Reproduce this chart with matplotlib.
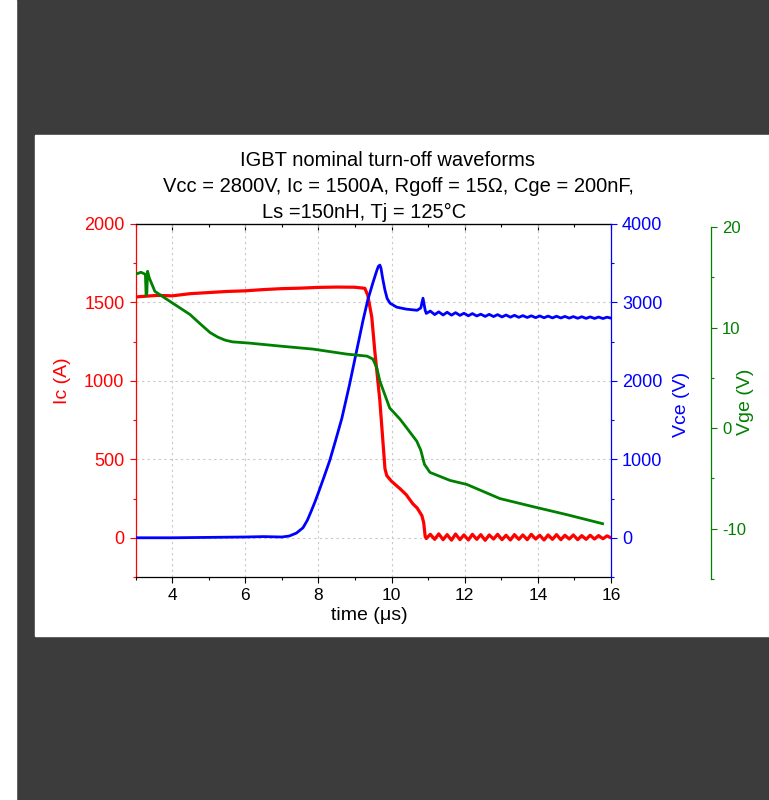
import numpy as np
import matplotlib
matplotlib.use("Agg")
import matplotlib.pyplot as plt
from matplotlib.patches import Rectangle
from matplotlib.ticker import MultipleLocator

plt.rcParams['font.family'] = ['Liberation Sans', 'DejaVu Sans']
plt.rcParams['axes.unicode_minus'] = False

# ---- data ----
ic_t = [3.0, 3.3, 3.6, 4.0, 4.5, 5.0, 5.5, 6.0, 6.5, 7.0, 7.5, 8.0, 8.5, 9.0, 9.27,
        9.35, 9.46, 9.54, 9.68, 9.82, 9.87, 10.0, 10.23, 10.4, 10.58, 10.7, 10.83, 10.88, 10.92]
ic_v = [1535, 1540, 1545, 1542, 1556, 1563, 1570, 1574, 1582, 1588, 1591, 1596, 1598, 1597, 1590,
        1546, 1406, 1195, 875, 441, 396, 360, 313, 275, 217, 190, 141, 95, 8]

ring_t = [10.95, 11.06, 11.18, 11.29, 11.41, 11.52, 11.64, 11.75, 11.87, 11.98, 12.10, 12.21,
          12.33, 12.44, 12.56, 12.67, 12.79, 12.90, 13.02, 13.13, 13.25, 13.36, 13.48, 13.59,
          13.71, 13.82, 13.94, 14.05, 14.17, 14.28, 14.40, 14.51, 14.63, 14.74, 14.86, 14.97,
          15.09, 15.20, 15.32, 15.43, 15.55, 15.66, 15.78, 15.89, 16.0]
ic_ring = [-5, 22, -10, 25, -12, 20, -15, 24, -12, 18, -14, 22, -10, 20, -16, 18, -8, 22,
           -12, 16, -14, 20, -10, 18, -12, 22, -8, 16, -14, 18, -10, 20, -12, 16, -8, 18,
           -12, 14, -10, 16, -8, 14, -6, 12, 0]

vce_t = [3.0, 4.0, 5.0, 6.0, 6.5, 7.0, 7.2, 7.4, 7.58, 7.7, 7.8, 7.9, 8.0, 8.15, 8.31, 8.47,
         8.64, 8.85, 9.08, 9.22, 9.35, 9.49, 9.6, 9.64, 9.68, 9.71, 9.76, 9.82, 9.88, 9.96,
         10.14, 10.4, 10.7, 10.8, 10.86, 10.92]
vce_v = [0, 0, 5, 10, 15, 10, 22, 60, 128, 225, 335, 450, 575, 770, 984, 1240,
         1520, 1950, 2460, 2770, 3030, 3250, 3410, 3460, 3476, 3440, 3300, 3157, 3050, 2990,
         2940, 2915, 2900, 2930, 3054, 2900]
vce_ring = [2860, 2890, 2845, 2880, 2840, 2875, 2838, 2870, 2835, 2862, 2830, 2858, 2828,
            2850, 2822, 2848, 2820, 2845, 2815, 2840, 2812, 2836, 2810, 2832, 2808, 2830,
            2806, 2828, 2805, 2826, 2803, 2824, 2802, 2822, 2800, 2820, 2798, 2818, 2797,
            2816, 2796, 2814, 2795, 2812, 2800]

vge_t = [3.0, 3.15, 3.27, 3.29, 3.31, 3.33, 3.38, 3.45, 3.53, 3.86, 4.49, 4.76, 5.04, 5.25,
         5.45, 5.65, 6.1, 6.95, 7.85, 8.78, 9.33, 9.49, 9.6, 9.68, 9.95, 10.23, 10.42, 10.69,
         10.8, 10.9, 11.05, 11.6, 12.06, 12.96, 13.86, 14.79, 15.77]
vge_v = [15.3, 15.5, 15.3, 13.2, 13.4, 15.6, 14.9, 14.3, 13.6, 12.8, 11.3, 10.4, 9.5, 9.05,
         8.75, 8.58, 8.46, 8.16, 7.86, 7.36, 7.16, 6.87, 5.97, 4.68, 2.0, 0.9, 0.0, -1.3,
         -2.2, -3.6, -4.4, -5.2, -5.6, -7.0, -7.8, -8.6, -9.5]

title_lines = ["IGBT nominal turn-off waveforms",
               "Vcc = 2800V, Ic = 1500A, Rgoff = 15\u03a9, Cge = 200nF,",
               "Ls =150nH, Tj = 125\u00b0C"]

W, H = 769, 800
fig = plt.figure(figsize=(W / 100, H / 100), dpi=100)
fig.patch.set_facecolor('#3c3c3c')
fig.add_artist(Rectangle((0, 0), 16 / W, 1, transform=fig.transFigure, color='white', zorder=-5))
fig.add_artist(Rectangle((35 / W, 1 - 636 / H), 1 - 35 / W, (636 - 135) / H,
                         transform=fig.transFigure, color='white', zorder=-5))

L, R = 135.5 / W, 611 / W
ax1 = fig.add_axes([L, 1 - 577 / H, R - L, (577 - 224) / H])
ax2 = ax1.twinx()
ax3 = fig.add_axes([L, 1 - 579 / H, R - L, (579 - 227) / H], sharex=ax1)

red, blue, green = '#ff0000', '#0000ff', '#008000'

ax1.plot(ic_t + ring_t, ic_v + ic_ring, color=red, lw=2.3)
ax2.plot(vce_t + ring_t, vce_v + vce_ring, color=blue, lw=2.0)
ax3.plot(vge_t, vge_v, color=green, lw=2.0)

ax1.set_xlim(3, 16)
ax1.set_ylim(-250, 2000)
ax2.set_ylim(-500, 4000)
ax3.set_ylim(-15, 20)

ax1.xaxis.set_major_locator(MultipleLocator(2))
ax1.xaxis.set_minor_locator(MultipleLocator(1))
ax1.yaxis.set_major_locator(MultipleLocator(500))
ax1.yaxis.set_minor_locator(MultipleLocator(250))
ax2.yaxis.set_major_locator(MultipleLocator(1000))
ax2.yaxis.set_minor_locator(MultipleLocator(500))
ax3.yaxis.set_major_locator(MultipleLocator(10))
ax3.yaxis.set_minor_locator(MultipleLocator(5))

ax1.grid(True, which='major', color='#c8c8c8', lw=0.8, linestyle=(0, (2, 3)))

ax1.tick_params(axis='x', which='major', direction='out', length=4, width=0.8, labelsize=12.5, pad=4)
ax1.tick_params(axis='x', which='minor', direction='out', length=2.5, width=0.8)
ax1.tick_params(axis='y', which='major', direction='out', length=4, width=0.8, colors=red, labelsize=13, pad=4)
ax1.tick_params(axis='y', which='minor', direction='out', length=2.5, width=0.8, colors=red)
ax2.tick_params(axis='y', which='major', direction='out', length=4, width=0.8, colors=blue, labelsize=13, pad=4)
ax2.tick_params(axis='y', which='minor', direction='out', length=2.5, width=0.8, colors=blue)

top = ax1.secondary_xaxis('top')
top.xaxis.set_major_locator(MultipleLocator(2))
top.xaxis.set_minor_locator(MultipleLocator(1))
top.tick_params(which='major', direction='in', length=4, width=0.8, labeltop=False)
top.tick_params(which='minor', direction='in', length=2.5, width=0.8)

ax1.spines['left'].set_color(red)
ax1.spines['right'].set_visible(False)
for s in ['left', 'top', 'bottom']:
    ax2.spines[s].set_visible(False)
ax2.spines['right'].set_color(blue)

ax3.patch.set_visible(False)
for s in ['left', 'top', 'bottom']:
    ax3.spines[s].set_visible(False)
ax3.spines['right'].set_color(green)
ax3.spines['right'].set_position(('outward', 72))
ax3.yaxis.tick_right()
ax3.yaxis.set_label_position('right')
ax3.xaxis.set_visible(False)
ax3.tick_params(axis='y', which='major', direction='out', length=4, width=0.8, colors=green, labelsize=12, pad=4)
ax3.tick_params(axis='y', which='minor', direction='out', length=2.5, width=0.8, colors=green)

for sp in ax1.spines.values():
    sp.set_linewidth(0.9)
ax2.spines['right'].set_linewidth(0.9)
ax3.spines['right'].set_linewidth(0.9)

ax1.set_xlabel('time (\u03bcs)', fontsize=14)
ax1.xaxis.set_label_coords((369 / W - L) / (R - L), (577 - 615) / 353)
ax1.xaxis.label.set_va('center')
ax1.set_ylabel('Ic (A)', color=red, fontsize=14, va='center')
ax1.yaxis.set_label_coords((63 - 135.5) / 475.5, (577 - 381) / 353)
ax2.set_ylabel('Vce (V)', color=blue, fontsize=14, va='center')
ax2.yaxis.set_label_coords((681 - 135.5) / 475.5, (577 - 404) / 353)
ax3.set_ylabel('Vge (V)', color=green, fontsize=14, va='center')
ax3.yaxis.set_label_coords((745 - 135.5) / 475.5, (579 - 402) / 352)

for line, cx, by in zip(title_lines, [387, 398, 364], [166, 192, 218]):
    fig.text(cx / W, 1 - by / H, line, ha='center', va='baseline', fontsize=14.5)

fig.savefig('out.png', dpi=100)
